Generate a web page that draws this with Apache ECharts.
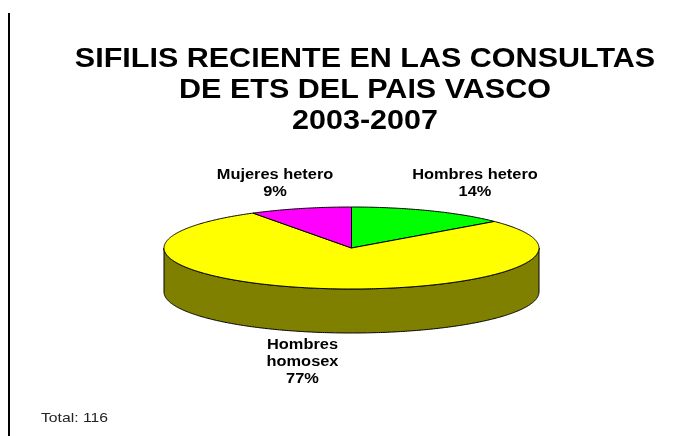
<!DOCTYPE html>
<html>
<head>
<meta charset="utf-8">
<style>
  html, body { margin: 0; padding: 0; background: #fff; }
  #root { width: 680px; height: 436px; }
</style>
<script src="https://cdn.jsdelivr.net/npm/echarts@6/dist/echarts.min.js"></script>
</head>
<body>
<div id="root"></div>
<script>
const titleLines = ['SIFILIS RECIENTE EN LAS CONSULTAS', 'DE ETS DEL PAIS VASCO', '2003-2007']
const footnote = 'Total: 116'
const categories = ['Hombres hetero', 'Hombres\nhomosex', 'Mujeres hetero']
const values = [13.8, 77.4, 8.8]
const sliceColors = ['#00ff00', '#ffff00', '#ff00ff']
const wallColors = ['#008000', '#808000', '#800080']

// pie is drawn by hand: ECharts has no tilted pie
const cx = 351.5, cy = 248, rx = 187.5, ry = 41, depth = 44
const labelPos = [[475, 184], [302.5, 362], [275, 184]]
const total = values.reduce((a, b) => a + b, 0)

const ellipsePoint = (t, dy) => [cx + rx * Math.sin(t), cy + dy - ry * Math.cos(t)]

const arc = (from, to, dy) => {
  const pts = []
  const n = Math.max(2, Math.ceil((to - from) / 0.01))
  for (let i = 0; i <= n; i++) pts.push(ellipsePoint(from + (to - from) * i / n, dy))
  return pts
}

const renderSlice = (params, api) => {
  const i = params.dataIndex
  let before = 0
  for (let k = 0; k < i; k++) before += values[k]
  const a0 = before / total * 2 * Math.PI
  const a1 = (before + api.value(0)) / total * 2 * Math.PI
  const children = []

  // side wall, only the part of the rim that faces us
  const w0 = Math.max(a0, Math.PI / 2), w1 = Math.min(a1, Math.PI * 1.5)
  if (w1 > w0) {
    children.push({
      type: 'polygon',
      shape: { points: arc(w0, w1, 0).concat(arc(w0, w1, depth).reverse()) },
      style: { fill: wallColors[i], stroke: '#000', lineWidth: 1 }
    })
  }
  children.push({
    type: 'polygon',
    shape: { points: [[cx, cy]].concat(arc(a0, a1, 0)) },
    style: { fill: sliceColors[i], stroke: '#000', lineWidth: 1 }
  })
  // the reference text is stretched sideways, hence the scaleX
  children.push({
    type: 'text',
    x: labelPos[i][0],
    y: labelPos[i][1],
    scaleX: 1.17,
    style: {
      text: categories[i] + '\n' + Math.round(api.value(0) / total * 100) + '%',
      align: 'center',
      verticalAlign: 'middle',
      font: 'bold 14px "Liberation Sans"',
      lineHeight: 17,
      fill: '#000'
    }
  })
  return { type: 'group', children: children }
}

const chart = echarts.init(document.getElementById('root'), null, { renderer: 'canvas' })
chart.setOption({
  animation: false,
  backgroundColor: '#fff',
  graphic: [
    {
      type: 'rect',
      shape: { x: 8, y: 13, width: 2, height: 423 },
      style: { fill: '#000' }
    },
    {
      type: 'text',
      x: 365,
      y: 91,
      scaleX: 1.13,
      style: {
        text: titleLines.join('\n'),
        align: 'center',
        verticalAlign: 'middle',
        font: 'bold 27px "Liberation Sans"',
        lineHeight: 31,
        fill: '#000'
      }
    },
    {
      type: 'text',
      x: 41,
      y: 418,
      scaleX: 1.165,
      style: {
        text: footnote,
        align: 'left',
        verticalAlign: 'middle',
        font: '13.5px "Liberation Sans"',
        fill: '#222'
      }
    }
  ],
  series: [{
    type: 'custom',
    coordinateSystem: 'none',
    renderItem: renderSlice,
    data: values.map(v => [v]),
    silent: true
  }]
})
</script>
</body>
</html>
